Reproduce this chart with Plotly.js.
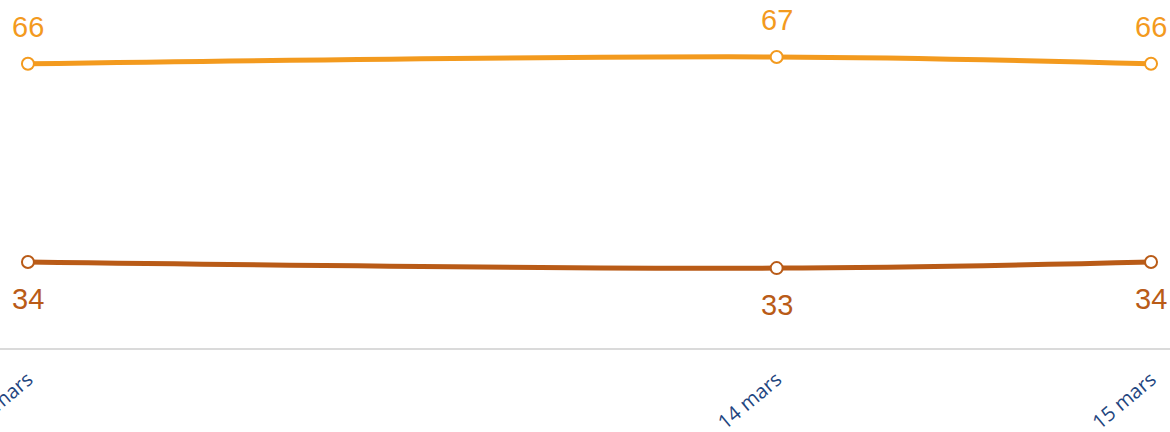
<!DOCTYPE html>
<html>
<head>
<meta charset="utf-8">
<script src="https://cdn.plot.ly/plotly-3.0.1.min.js"></script>
<style>html,body{margin:0;padding:0;background:#fff;}#chart{width:1170px;height:432px;}</style>
</head>
<body>
<div id="chart"></div>
<script>
const dates = ['2021-03-12', '2021-03-14', '2021-03-15'];
const tickLabels = ['12 mars', '14 mars', '15 mars'];
const seriesTop = [66, 67.1, 66];
const seriesBottom = [34, 33, 34];
const labelsTop = ['66', '67', '66'];
const labelsBottom = ['34', '33', '34'];

const cTop = '#F39A1E';
const cBot = '#B95B17';

function trace(y, color) {
  return {
    x: dates, y: y, type: 'scatter', mode: 'lines+markers',
    line: {color: color, width: 5, shape: 'spline', smoothing: 1},
    marker: {size: 12, color: '#ffffff', line: {color: color, width: 2}},
    hoverinfo: 'skip'
  };
}

const annotations = [];
dates.forEach((d, i) => {
  annotations.push({x: d, y: seriesTop[i], text: labelsTop[i], showarrow: false,
    yshift: 37, yanchor: 'middle', font: {family: 'Liberation Sans, Arial', size: 29, color: cTop}});
  annotations.push({x: d, y: seriesBottom[i], text: labelsBottom[i], showarrow: false,
    yshift: -37, yanchor: 'middle', font: {family: 'Liberation Sans, Arial', size: 29, color: cBot}});
});

const layout = {
  width: 1170, height: 432,
  margin: {l: 0, r: 0, t: 0, b: 84},
  paper_bgcolor: '#ffffff', plot_bgcolor: '#ffffff',
  showlegend: false,
  xaxis: {
    type: 'date',
    range: ['2021-03-11 22:12:30', '2021-03-15 01:13'],
    tickvals: dates, ticktext: tickLabels,
    tickangle: -40,
    tickfont: {family: 'Open Sans', size: 20, color: '#1F4680'},
    ticklabeloverflow: 'allow',
    ticklabelstandoff: 10,
    showgrid: false, zeroline: false,
    showline: true, linecolor: '#DADADA', linewidth: 2,
    ticks: ''
  },
  yaxis: {
    range: [20.1, 76.3],
    showgrid: false, zeroline: false, showticklabels: false, showline: false
  },
  annotations: annotations
};

Plotly.newPlot('chart', [trace(seriesTop, cTop), trace(seriesBottom, cBot)], layout, {displayModeBar: false, staticPlot: true});
</script>
</body>
</html>
